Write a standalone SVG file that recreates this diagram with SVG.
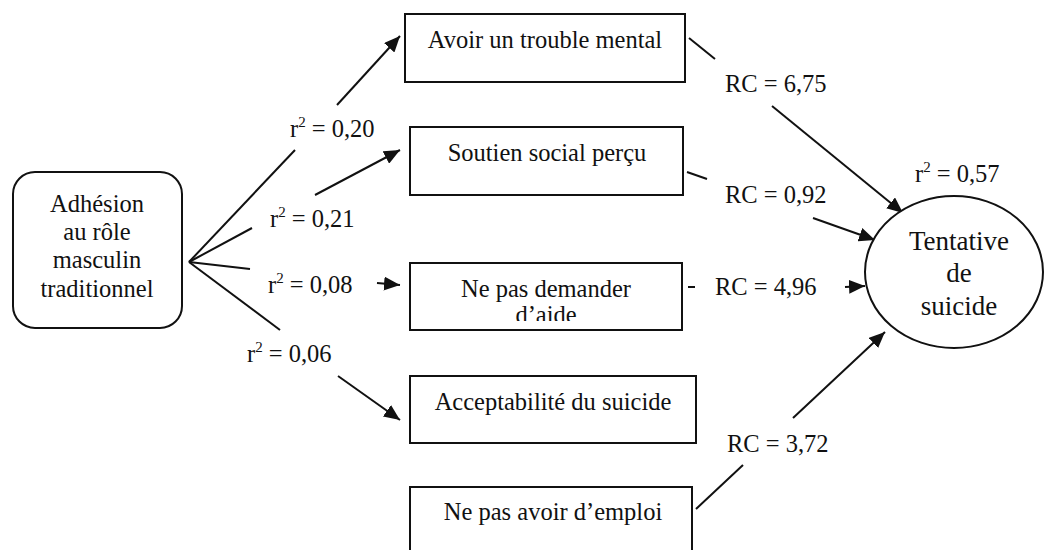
<svg xmlns="http://www.w3.org/2000/svg" width="1045" height="550" viewBox="0 0 1045 550">
<style>
text{font-family:"Liberation Serif","Times New Roman",serif;font-size:24.5px;fill:#111}
.c{text-anchor:middle}
.big{font-size:27px}
.box{fill:#fff;stroke:#111;stroke-width:2}
.ln{stroke:#111;stroke-width:2;fill:none}
.sup{font-size:15px}
</style>
<defs>
<marker id="ah" markerUnits="userSpaceOnUse" markerWidth="18" markerHeight="14" refX="16" refY="7" orient="auto">
<path d="M0,0 L16,7 L0,14 Z" fill="#111"/>
</marker>
<clipPath id="clipAide"><rect x="410" y="263" width="272" height="58"/></clipPath>
</defs>
<rect width="1045" height="550" fill="#fff"/>

<g id="connectors">
<line class="ln" x1="189" y1="262" x2="295" y2="150"/>
<line class="ln" x1="337" y1="105" x2="400" y2="36" marker-end="url(#ah)"/>
<line class="ln" x1="189" y1="262" x2="252" y2="228"/>
<line class="ln" x1="315" y1="195" x2="400" y2="150" marker-end="url(#ah)"/>
<line class="ln" x1="189" y1="262" x2="250" y2="269"/>
<line class="ln" x1="377" y1="283" x2="400" y2="285" marker-end="url(#ah)"/>
<line class="ln" x1="189" y1="262" x2="280" y2="330"/>
<line class="ln" x1="338" y1="376" x2="400" y2="420" marker-end="url(#ah)"/>

<line class="ln" x1="689" y1="38" x2="715" y2="59"/>
<line class="ln" x1="772" y1="106" x2="903" y2="213" marker-end="url(#ah)"/>
<line class="ln" x1="687" y1="172" x2="707" y2="179"/>
<line class="ln" x1="813" y1="218" x2="875" y2="240" marker-end="url(#ah)"/>
<line class="ln" x1="688" y1="287" x2="695" y2="287"/>
<line class="ln" x1="845" y1="287" x2="865" y2="286" marker-end="url(#ah)"/>
<line class="ln" x1="696" y1="509" x2="743" y2="465"/>
<line class="ln" x1="793" y1="418" x2="885" y2="332" marker-end="url(#ah)"/>

<text x="290" y="137">r<tspan class="sup" dy="-10">2</tspan><tspan dy="10"> = 0,20</tspan></text>
<text x="270" y="227">r<tspan class="sup" dy="-10">2</tspan><tspan dy="10"> = 0,21</tspan></text>
<text x="268" y="293">r<tspan class="sup" dy="-10">2</tspan><tspan dy="10"> = 0,08</tspan></text>
<text x="247" y="362">r<tspan class="sup" dy="-10">2</tspan><tspan dy="10"> = 0,06</tspan></text>
<text x="725" y="92">RC = 6,75</text>
<text x="725" y="203">RC = 0,92</text>
<text x="715" y="295">RC = 4,96</text>
<text x="727" y="452">RC = 3,72</text>
<text x="915" y="182">r<tspan class="sup" dy="-10">2</tspan><tspan dy="10"> = 0,57</tspan></text>
</g>

<g id="node-adhesion">
<rect class="box" x="13" y="172" width="169" height="156" rx="22"/>
<text class="c" x="97" y="212">Adhésion</text>
<text class="c" x="97" y="240">au rôle</text>
<text class="c" x="97" y="268">masculin</text>
<text class="c" x="97" y="297">traditionnel</text>
</g>

<g id="node-trouble">
<rect class="box" x="405" y="14" width="280" height="68"/>
<text class="c" x="545" y="48">Avoir un trouble mental</text>
</g>

<g id="node-soutien">
<rect class="box" x="410" y="127" width="273" height="68"/>
<text class="c" x="547" y="161">Soutien social perçu</text>
</g>

<g id="node-aide">
<rect class="box" x="410" y="263" width="272" height="67"/>
<text class="c" x="546" y="297">Ne pas demander</text>
<text class="c" x="546" y="323" clip-path="url(#clipAide)">d’aide</text>
</g>

<g id="node-acceptabilite">
<rect class="box" x="410" y="376" width="286" height="67"/>
<text class="c" x="553" y="410">Acceptabilité du suicide</text>
</g>

<g id="node-emploi">
<rect class="box" x="410" y="487" width="282" height="80"/>
<text class="c" x="553" y="520">Ne pas avoir d’emploi</text>
</g>

<g id="node-tentative">
<ellipse class="box" cx="954" cy="272" rx="89" ry="76"/>
<text class="c big" x="959" y="250">Tentative</text>
<text class="c big" x="959" y="282">de</text>
<text class="c big" x="959" y="315">suicide</text>
</g>
</svg>
